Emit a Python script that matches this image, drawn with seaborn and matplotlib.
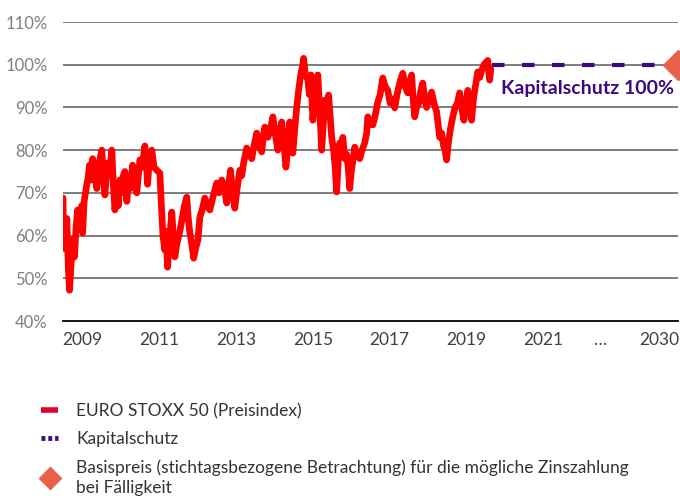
import matplotlib
matplotlib.use("Agg")
import matplotlib.pyplot as plt
from matplotlib.lines import Line2D
import seaborn as sns
import pandas as pd

# ---- data ----
years = [
    2009.00, 2009.02, 2009.04, 2009.07, 2009.10, 2009.14, 2009.17, 2009.21, 2009.25, 2009.30,
    2009.34, 2009.38, 2009.43, 2009.49, 2009.51, 2009.55, 2009.62, 2009.66, 2009.69, 2009.73,
    2009.77, 2009.82, 2009.88, 2009.94, 2010.01, 2010.05, 2010.09, 2010.12, 2010.16, 2010.21,
    2010.27, 2010.31, 2010.35, 2010.40, 2010.44, 2010.48, 2010.53, 2010.57, 2010.61, 2010.66,
    2010.70, 2010.75, 2010.81, 2010.86, 2010.92, 2010.96, 2011.00, 2011.06, 2011.13, 2011.17,
    2011.20, 2011.25, 2011.31, 2011.37, 2011.44, 2011.52, 2011.56, 2011.60, 2011.65, 2011.68,
    2011.72, 2011.76, 2011.80, 2011.83, 2011.87, 2011.91, 2011.96, 2012.04, 2012.10, 2012.16,
    2012.22, 2012.26, 2012.30, 2012.35, 2012.40, 2012.45, 2012.51, 2012.56, 2012.62, 2012.69,
    2012.75, 2012.82, 2012.90, 2013.00, 2013.06, 2013.13, 2013.20, 2013.26, 2013.31, 2013.36,
    2013.41, 2013.47, 2013.53, 2013.60, 2013.65, 2013.70, 2013.78, 2013.84, 2013.91, 2013.97,
    2014.04, 2014.10, 2014.17, 2014.21, 2014.25, 2014.33, 2014.40, 2014.46, 2014.52, 2014.59,
    2014.64, 2014.69, 2014.74, 2014.80, 2014.85, 2014.90, 2014.94, 2014.98, 2015.03, 2015.08,
    2015.13, 2015.19, 2015.23, 2015.26, 2015.30, 2015.37, 2015.41, 2015.45, 2015.50, 2015.55,
    2015.63, 2015.67, 2015.73, 2015.77, 2015.81, 2015.86, 2015.91, 2015.95, 2015.99, 2016.04,
    2016.08, 2016.12, 2016.16, 2016.20, 2016.24, 2016.28, 2016.33, 2016.38, 2016.42, 2016.46,
    2016.50, 2016.55, 2016.59, 2016.65, 2016.72, 2016.78, 2016.85, 2016.90, 2016.93, 2016.99,
    2017.06, 2017.12, 2017.19, 2017.25, 2017.32, 2017.38, 2017.45, 2017.51, 2017.57, 2017.63,
    2017.69, 2017.76, 2017.80, 2017.84, 2017.90, 2017.97, 2018.02, 2018.07, 2018.11, 2018.15,
    2018.20, 2018.26, 2018.31, 2018.36, 2018.41, 2018.46, 2018.52, 2018.59, 2018.65, 2018.72,
    2018.76, 2018.80, 2018.85, 2018.90, 2018.94, 2018.98, 2019.03, 2019.08, 2019.14, 2019.20,
    2019.26, 2019.32, 2019.37, 2019.43, 2019.48, 2019.53, 2019.58, 2019.63, 2019.68, 2019.73,
    2019.79, 2019.84, 2019.90, 2019.95, 2020.00, 2020.05, 2020.08, 2020.10, 2020.13,
]
stoxx = [
    68.8, 57.0, 62.0, 58.0, 64.0, 52.0, 47.2, 53.0, 59.0, 55.0,
    62.0, 66.0, 64.0, 67.0, 60.6, 68.0, 72.0, 74.0, 76.5, 73.0,
    78.0, 75.0, 71.0, 77.0, 80.0, 74.0, 69.5, 73.0, 77.0, 74.0,
    80.0, 72.0, 66.0, 70.0, 67.0, 73.0, 70.0, 74.0, 75.0, 68.0,
    72.0, 71.0, 76.5, 73.0, 70.0, 74.0, 77.7, 76.0, 81.0, 77.0,
    72.0, 78.0, 80.0, 76.0, 75.3, 74.6, 67.0, 60.0, 56.6, 61.0,
    52.6, 58.0, 62.0, 65.5, 60.0, 55.0, 58.0, 61.0, 64.0, 67.0,
    69.0, 64.0, 60.6, 58.0, 54.7, 57.0, 59.0, 64.3, 66.0, 68.8,
    67.0, 66.0, 69.0, 72.3, 70.0, 73.0, 71.0, 67.6, 72.0, 75.3,
    70.0, 66.4, 71.0, 75.3, 74.0, 77.0, 80.5, 79.0, 78.0, 81.0,
    84.0, 81.0, 79.6, 83.0, 85.4, 83.0, 85.0, 87.8, 84.0, 80.0,
    84.0, 86.6, 82.0, 76.0, 81.0, 86.6, 83.0, 79.3, 85.0, 90.0,
    94.0, 98.0, 99.5, 101.5, 98.0, 96.4, 93.0, 97.6, 87.0, 92.0,
    97.6, 91.0, 80.0, 86.0, 91.7, 89.0, 92.9, 88.0, 83.0, 80.0,
    76.0, 70.2, 77.0, 81.7, 79.0, 83.0, 78.0, 79.0, 76.0, 71.0,
    75.0, 78.0, 80.7, 79.0, 78.0, 80.0, 81.7, 84.0, 87.8, 86.0,
    85.9, 88.0, 91.3, 93.0, 96.9, 95.0, 94.0, 91.0, 92.0, 89.9,
    93.0, 95.7, 97.0, 98.0, 95.0, 93.4, 96.0, 97.6, 92.0, 87.8,
    90.0, 91.0, 94.0, 95.7, 92.0, 90.0, 92.0, 93.6, 91.0, 89.0,
    86.0, 83.0, 84.0, 81.0, 80.0, 77.7, 82.0, 85.0, 87.8, 90.0,
    91.0, 93.4, 90.0, 87.0, 90.0, 94.0, 91.0, 87.0, 92.0, 95.0,
    98.3, 97.0, 98.8, 100.0, 100.5, 101.0, 98.0, 96.4, 99.0,
]
schutz_years = [2020.16, 2025.0]
schutz_values = [100, 100]
basis_year = [2025.0]
basis_value = [100]
y_ticks = [40, 50, 60, 70, 80, 90, 100, 110]
x_label_pos = [2009.5, 2011.5, 2013.5, 2015.5, 2017.5, 2019.5, 2021.5, 2022.95, 2024.5]
x_labels = ["2009", "2011", "2013", "2015", "2017", "2019", "2021", "…", "2030"]

RED = "#ff0000"
PURPLE = "#3b0a80"
CORAL = "#e8604c"

sns.set_style("white")
plt.rcParams["font.family"] = ["Lato", "DejaVu Sans"]

fig = plt.figure(figsize=(6.8, 4.96), dpi=100)
ax = fig.add_axes([63 / 680, 1 - 321 / 496, (678 - 63) / 680, (321 - 22) / 496])

df = pd.DataFrame({"year": years, "value": stoxx})
sns.lineplot(data=df, x="year", y="value", ax=ax, color=RED, linewidth=4.8,
             zorder=3)
dfs = pd.DataFrame({"year": schutz_years, "value": schutz_values})
sns.lineplot(data=dfs, x="year", y="value", ax=ax, color=PURPLE, linewidth=3,
             linestyle=(0, (3.0, 4.2)), zorder=4)
dfb = pd.DataFrame({"year": basis_year, "value": basis_value})
ax.plot(dfb["year"], dfb["value"], marker="D", color=CORAL, markersize=15.5,
        linestyle="none", clip_on=False, zorder=5)

ax.text(2022.64, 94.5, "Kapitalschutz 100%", color=PURPLE, fontsize=14,
        fontweight="bold", ha="center", va="center")

ax.set_xlim(2009.0, 2025.0)
ax.set_ylim(40, 110)
ax.set_yticks(y_ticks)
ax.set_yticklabels([f"{v}%" for v in y_ticks])
for v in y_ticks[1:]:
    ax.axhline(v, color="#5a5a5a", linewidth=1.1, zorder=1)

ax.set_xticks(range(2009, 2026))
ax.set_xticklabels([])
ax.set_xticks(x_label_pos, minor=True)
ax.set_xticklabels(x_labels, minor=True)
ax.tick_params(axis="x", which="major", length=4.5, width=1.3, color="black", direction="out")
ax.tick_params(axis="x", which="minor", length=0, pad=8, labelsize=12.5, labelcolor="#404040")
ax.tick_params(axis="y", length=0, pad=11, labelsize=12, labelcolor="#7f7f7f")
ax.set_xlabel("")
ax.set_ylabel("")
for s in ["top", "right", "left"]:
    ax.spines[s].set_visible(False)
ax.spines["bottom"].set_color("black")
ax.spines["bottom"].set_linewidth(1.3)
ax.spines["bottom"].set_zorder(6)

handles = [
    Line2D([], [], color="#e4002b", linewidth=4, solid_capstyle="butt"),
    Line2D([], [], color=PURPLE, linewidth=3.5, linestyle=(0, (0.8, 0.6))),
    Line2D([], [], color=CORAL, marker="D", markersize=11, linestyle="none"),
]
labels = ["EURO STOXX 50 (Preisindex)", "Kapitalschutz",
          "Basispreis (stichtagsbezogene Betrachtung) für die mögliche Zinszahlung\nbei Fälligkeit"]
leg = fig.legend(handles, labels, loc="upper left", bbox_to_anchor=(41 / 680, 1 - 403 / 496),
                 frameon=False, fontsize=12.5, handlelength=1.0, handletextpad=1.03,
                 labelspacing=0.7, borderpad=0, borderaxespad=0)
for t in leg.get_texts():
    t.set_color("#333333")
    t.set_linespacing(1.28)

fig.savefig("out.png", dpi=100)
